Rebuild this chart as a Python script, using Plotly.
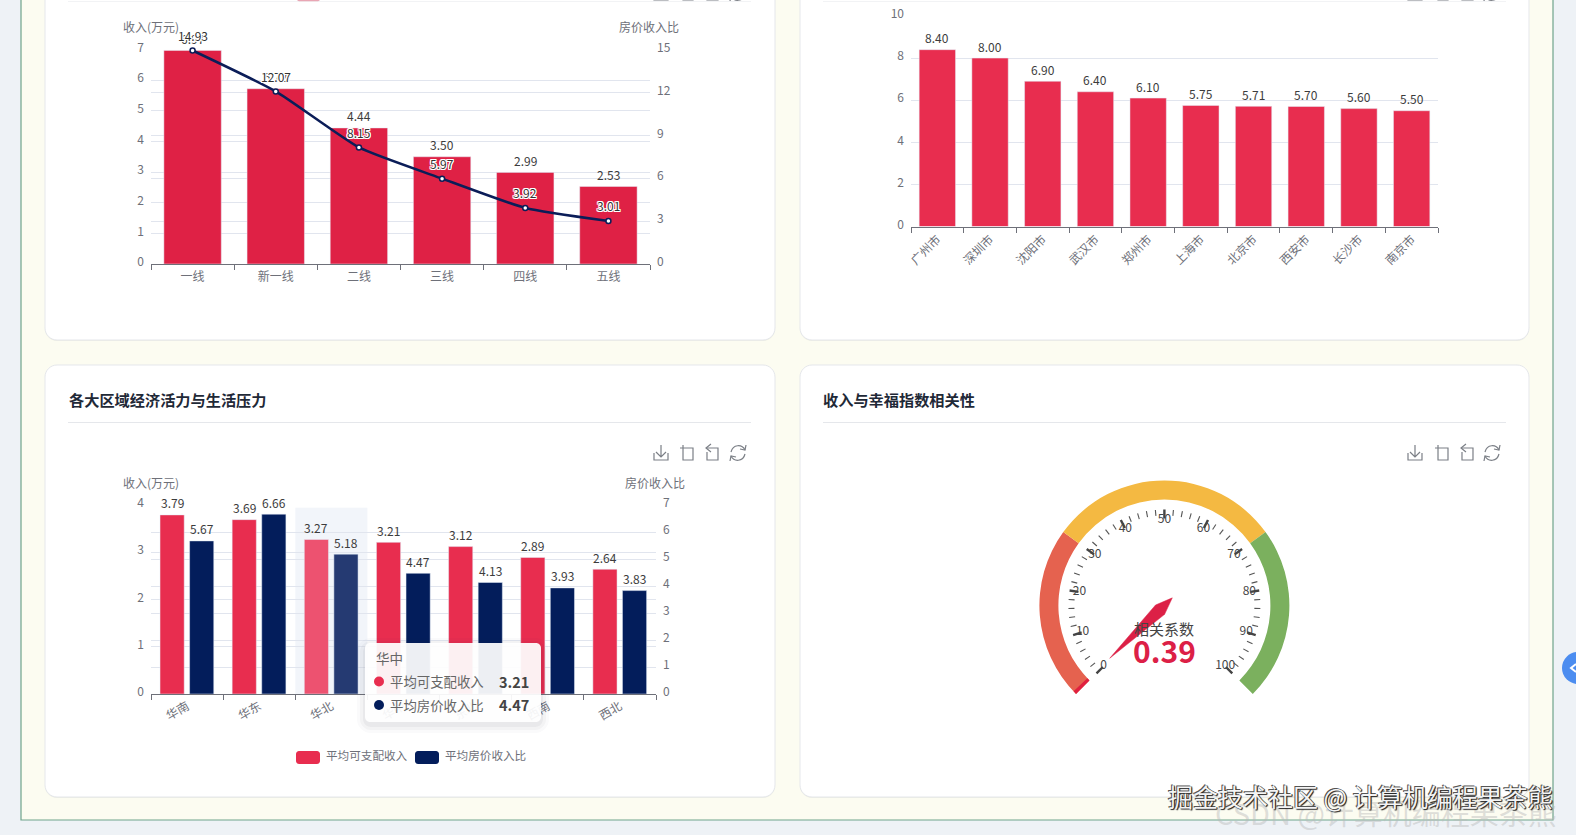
import math
import plotly.graph_objects as go

W, H = 1576, 835
FONT = "Noto Sans CJK SC, Noto Sans, sans-serif"

# ---------- data ----------
tier_cats = ["一线", "新一线", "二线", "三线", "四线", "五线"]
tier_income = [6.97, 5.72, 4.44, 3.50, 2.99, 2.53]
tier_ratio = [14.93, 12.07, 8.15, 5.97, 3.92, 3.01]

city_cats = ["广州市", "深圳市", "沈阳市", "武汉市", "郑州市", "上海市", "北京市", "西安市", "长沙市", "南京市"]
city_vals = [8.40, 8.00, 6.90, 6.40, 6.10, 5.75, 5.71, 5.70, 5.60, 5.50]

region_cats = ["华南", "华东", "华北", "华中", "东北", "西南", "西北"]
region_income = [3.79, 3.69, 3.27, 3.21, 3.12, 2.89, 2.64]
region_ratio = [5.67, 6.66, 5.18, 4.47, 4.13, 3.93, 3.83]

gauge_bands = [(0, 30, "#E5624F"), (30, 70, "#F4B942"), (70, 100, "#7BB05E")]
gauge_ticks = [0, 10, 20, 30, 40, 50, 60, 70, 80, 90, 100]
gauge_label = "0.39"
needle_value = 0

# ---------- helpers ----------
GRID = "#E1E5EE"
AXIS = "#6E7079"
RED = "#E82D4F"
NAVY = "#031D5B"


def px(x):
    return x / W


def py(y):
    return 1 - y / H


def pt(x, y):
    return f"{px(x):.5f} {py(y):.5f}"


def rrect(x0, y0, x1, y1, r):
    k = r * 0.45
    return (
        f"M{pt(x0 + r, y0)} L{pt(x1 - r, y0)} C{pt(x1 - k, y0)} {pt(x1, y0 + k)} {pt(x1, y0 + r)} "
        f"L{pt(x1, y1 - r)} C{pt(x1, y1 - k)} {pt(x1 - k, y1)} {pt(x1 - r, y1)} "
        f"L{pt(x0 + r, y1)} C{pt(x0 + k, y1)} {pt(x0, y1 - k)} {pt(x0, y1 - r)} "
        f"L{pt(x0, y0 + r)} C{pt(x0, y0 + k)} {pt(x0 + k, y0)} {pt(x0 + r, y0)} Z"
    )


shapes = []
annotations = []


def rect(x0, y0, x1, y1, fill, line=None, lw=0, layer="below"):
    shapes.append(dict(type="rect", xref="paper", yref="paper", x0=px(x0), x1=px(x1), y0=py(y0), y1=py(y1),
                       fillcolor=fill, line=dict(color=line or fill, width=lw), layer=layer))


def rr(x0, y0, x1, y1, r, fill, line=None, lw=0, layer="below"):
    shapes.append(dict(type="path", xref="paper", yref="paper", path=rrect(x0, y0, x1, y1, r), fillcolor=fill,
                       line=dict(color=line or "rgba(0,0,0,0)", width=lw), layer=layer))


def stroke(path, color="#7B7F86", width=1.2, layer="above"):
    shapes.append(dict(type="path", xref="paper", yref="paper", path=path, line=dict(color=color, width=width),
                       fillcolor="rgba(0,0,0,0)", layer=layer))


def label(x, y, text, size=12, color=AXIS, anchor="center", bold=False, shadow=None):
    font = dict(family=FONT, size=size, color=color, weight=700 if bold else 400)
    if shadow:
        font["shadow"] = shadow
    annotations.append(dict(xref="paper", yref="paper", x=px(x), y=py(y), text=text, showarrow=False, font=font,
                            xanchor=anchor, yanchor="middle", align="center"))


def value_labels(xref, yref, offset, values, shift, shadow=None, color="#3C3C3C"):
    font = dict(family=FONT, size=12, color=color)
    if shadow:
        font["shadow"] = shadow
    for i, v in enumerate(values):
        annotations.append(dict(xref=xref, yref=yref, x=i + offset, y=v, text=f"{v:.2f}", showarrow=False, font=font,
                                xanchor="center", yanchor="middle", yshift=shift))


def icons(x_offs, cy):
    # download, zoom, zoom reset, restore
    x = x_offs[0]
    stroke(f"M{pt(x - 7, cy)} L{pt(x - 7, cy + 7)} L{pt(x + 7, cy + 7)} L{pt(x + 7, cy)}")
    stroke(f"M{pt(x, cy - 8)} L{pt(x, cy + 4)} M{pt(x - 5, cy - 1)} L{pt(x, cy + 4)} L{pt(x + 5, cy - 1)}")
    x = x_offs[1]
    stroke(f"M{pt(x - 7, cy - 5)} L{pt(x + 6, cy - 5)} L{pt(x + 6, cy + 7)} L{pt(x - 4, cy + 7)} L{pt(x - 4, cy - 8)}")
    x = x_offs[2]
    stroke(f"M{pt(x - 5, cy - 5)} L{pt(x + 6, cy - 5)} L{pt(x + 6, cy + 7)} L{pt(x - 5, cy + 7)} L{pt(x - 5, cy - 1)}")
    stroke(f"M{pt(x - 1, cy - 9)} L{pt(x - 6, cy - 5)} L{pt(x - 1, cy - 1)}")
    x = x_offs[3]
    stroke(f"M{pt(x + 7, cy - 3)} C{pt(x + 4, cy - 9)} {pt(x - 5, cy - 9)} {pt(x - 7, cy - 1)} "
           f"M{pt(x - 7, cy + 3)} C{pt(x - 4, cy + 9)} {pt(x + 5, cy + 9)} {pt(x + 7, cy + 1)}")
    stroke(f"M{pt(x + 8, cy - 8)} L{pt(x + 7, cy - 3)} L{pt(x + 2, cy - 4)} "
           f"M{pt(x - 8, cy + 8)} L{pt(x - 7, cy + 3)} L{pt(x - 2, cy + 4)}")


# ---------- page chrome ----------
rect(0, 0, W, H, "#EEF2F6")
rect(21, -5, 1553, 820, "#FCFCF1", "#6FA38B", 1.2)
for (x0, y0, x1, y1) in [(45, -40, 775, 340), (800, -40, 1529, 340), (45, 365, 775, 797), (800, 365, 1529, 797)]:
    rr(x0, y0 + 1, x1, y1 + 1, 12, "rgba(120,130,120,0.10)")
    rr(x0, y0, x1, y1, 12, "#FFFFFF", "#E5E7EB", 1)
for (x0, x1) in [(68, 751), (823, 1506)]:
    rect(x0, 1, x1, 1.6, "#E5E7EB")
    rect(x0, 422, x1, 423, "#E5E7EB")
rr(297, -6, 320, 1.2, 2, "#E9A6B4")
label(67, 398.5, "各大区域经济活力与生活压力", 15.2, "#1F2937", "left", True)
label(821, 398.5, "收入与幸福指数相关性", 15.2, "#1F2937", "left", True)
icons((661, 687, 712, 738), -7)
icons((1415, 1442, 1467, 1492), -7)
icons((661, 687, 712, 738), 453)
icons((1415, 1442, 1467, 1492), 453)

# axis captions
label(151, 27, "收入(万元)")
label(649, 27, "房价收入比")
label(151, 483, "收入(万元)")
label(655, 483, "房价收入比")

# legend of the region chart
rr(296, 751, 320, 764, 3, RED)
label(324, 755, "平均可支配收入", 11.6, AXIS, "left")
rr(415, 751, 439, 764, 3, NAVY)
label(443, 755, "平均房价收入比", 11.6, AXIS, "left")

# ---------- figure ----------
fig = go.Figure()

PL1 = (151, 650, 49.5, 264)
PL2 = (911, 1438, 16, 226.5)
PL3 = (151, 656, 505, 694)


def dom(pl):
    return dict(x=[px(pl[0]), px(pl[1])], y=[py(pl[3]), py(pl[2])])


d1, d2, d3 = dom(PL1), dom(PL2), dom(PL3)
ycommon = dict(showline=False, ticks="", gridcolor=GRID, gridwidth=1, zeroline=False,
               tickfont=dict(family=FONT, size=12, color=AXIS), ticklabelstandoff=6, ticklabelshift=-2)
xcommon = dict(type="category", showline=True, linecolor=AXIS, linewidth=1, ticks="outside", tickcolor=AXIS,
               ticklen=5, tickson="boundaries", showgrid=False, zeroline=False,
               tickfont=dict(family=FONT, size=12, color=AXIS))
WHITE_RING = "1px 0 0 #fff, -1px 0 0 #fff, 0 1px 0 #fff, 0 -1px 0 #fff, 1px 1px 0 #fff, -1px -1px 0 #fff, 1px -1px 0 #fff, -1px 1px 0 #fff"

# tier chart
fig.add_trace(go.Bar(x=tier_cats, y=tier_income, xaxis="x", yaxis="y", marker=dict(color="#DF2145"),
                     cliponaxis=False, width=0.69))
fig.add_trace(go.Scatter(x=tier_cats, y=tier_ratio, xaxis="x", yaxis="y2", mode="lines+markers",
                         line=dict(color="#0B1D58", width=2.5, shape="spline", smoothing=0.5),
                         marker=dict(size=5, color="#FFFFFF", line=dict(color="#0B1D58", width=1.5)),
                         cliponaxis=False))
value_labels("x", "y", 0, tier_income, 12)
value_labels("x", "y2", 0, tier_ratio, 15, shadow=WHITE_RING, color="#333333")

# city chart
fig.add_trace(go.Bar(x=city_cats, y=city_vals, xaxis="x2", yaxis="y3", marker=dict(color=RED),
                     cliponaxis=False, width=0.69))
value_labels("x2", "y3", 0, city_vals, 12)

# region chart
hi = region_cats.index("华北")
inc_colors = ["#ED5270" if i == hi else RED for i in range(len(region_cats))]
rat_colors = ["#253A72" if i == hi else NAVY for i in range(len(region_cats))]
fig.add_trace(go.Bar(x=region_cats, y=region_income, xaxis="x3", yaxis="y4", marker=dict(color=inc_colors),
                     cliponaxis=False, width=0.335, offset=-0.375))
fig.add_trace(go.Bar(x=region_cats, y=region_ratio, xaxis="x3", yaxis="y5", marker=dict(color=rat_colors),
                     cliponaxis=False, width=0.335, offset=0.035))
value_labels("x3", "y4", -0.2075, region_income, 12)
value_labels("x3", "y5", 0.2025, region_ratio, 12)
shapes.append(dict(type="rect", xref="x3", yref="y4 domain", x0=hi - 0.5, x1=hi + 0.5, y0=0, y1=0.985,
                   fillcolor="rgba(226,232,243,0.45)", line=dict(width=0), layer="below"))

# gauge: polar radius is in pixels of the square domain
GX, GY, GR = 1164.4, 605.5, 135


def val_theta(v):
    return 225 - 2.7 * v


R_OUT, R_IN = 125, 106
for lo, hi_v, col in gauge_bands:
    fig.add_trace(go.Barpolar(r=[R_OUT - R_IN], base=[R_IN], theta=[val_theta((lo + hi_v) / 2)],
                              width=[2.7 * (hi_v - lo)], marker=dict(color=col, line=dict(width=0)), subplot="polar"))
fig.add_trace(go.Barpolar(r=[R_OUT - R_IN], base=[R_IN], theta=[val_theta(0.3)], width=[2.7 * 0.6],
                          marker=dict(color="#E0203F", line=dict(width=0)), subplot="polar"))

minor_r, minor_t = [], []
for v in range(0, 100, 2):
    if v % 10:
        minor_r += [90, 96, None]
        minor_t += [val_theta(v), val_theta(v), None]
fig.add_trace(go.Scatterpolar(r=minor_r, theta=minor_t, mode="lines", line=dict(color="#555555", width=1.1),
                              subplot="polar"))
major_r, major_t = [], []
for v in gauge_ticks:
    major_r += [87, 96, None]
    major_t += [val_theta(v), val_theta(v), None]
fig.add_trace(go.Scatterpolar(r=major_r, theta=major_t, mode="lines", line=dict(color="#444444", width=2.4),
                              subplot="polar"))
fig.add_trace(go.Scatterpolar(r=[86] * len(gauge_ticks), theta=[val_theta(v) for v in gauge_ticks], mode="text",
                              text=[str(v) for v in gauge_ticks], textposition="middle center",
                              textfont=dict(family=FONT, size=12, color="#464646"), subplot="polar"))
needle_local = [(76, 0), (6, -6.5), (-11, 0), (6, 6.5), (76, 0)]
base = val_theta(needle_value) - 1
fig.add_trace(go.Scatterpolar(r=[math.hypot(a, b) for a, b in needle_local],
                              theta=[base + math.degrees(math.atan2(b, a)) for a, b in needle_local],
                              mode="lines", fill="toself", fillcolor="#DC2046", line=dict(color="#DC2046", width=0.5),
                              subplot="polar"))
label(GX, 628, "相关系数", 15, "#444444")
label(GX, 650, gauge_label, 30, "#DC2046", bold=True)

# tooltip
for grow, alpha in [(8, 0.025), (5, 0.035), (2, 0.05)]:
    rr(365 - grow, 643 - grow + 3, 541 + grow, 722 + grow + 3, 6 + grow, f"rgba(60,60,70,{alpha})", layer="above")
rr(365, 643, 541, 722, 5, "rgba(255,255,255,0.93)", layer="above")
label(374, 658, "华中", 13.5, "#666666", "left")
for y, name, val, col in [(681.5, "平均可支配收入", region_income[3], RED), (705, "平均房价收入比", region_ratio[3], NAVY)]:
    shapes.append(dict(type="circle", xref="paper", yref="paper", x0=px(374), x1=px(384), y0=py(y + 5), y1=py(y - 5),
                       fillcolor=col, line=dict(width=0), layer="above"))
    label(388, y - 0.5, name, 13.4, "#666666", "left")
    label(530.5, y - 0.5, f"{val:.2f}", 14.5, "#444444", "right", True)

# floating button and watermarks
shapes.append(dict(type="circle", xref="paper", yref="paper", x0=px(1562), x1=px(1594), y0=py(684), y1=py(652),
                   fillcolor="#4C8DF0", line=dict(width=0), layer="above"))
stroke(f"M{pt(1576, 664)} L{pt(1571, 668)} L{pt(1576, 672)}", "#FFFFFF", 2)
label(1213, 812, "CSDN @计算机编程果茶熊", 29, "rgba(185,185,185,0.45)", "left")
label(1166, 796, "掘金技术社区 @ 计算机编程果茶熊", 25, "#F4F4F4", "left",
      shadow="1px 1px 1px #222, -1px -1px 0 #555, 1px 0 0 #555")

fig.update_layout(
    width=W, height=H, margin=dict(l=0, r=0, t=0, b=0, autoexpand=False), autosize=False,
    paper_bgcolor="#EEF2F6", plot_bgcolor="rgba(0,0,0,0)", showlegend=False, font=dict(family=FONT),
    barmode="overlay", hovermode=False, shapes=shapes, annotations=annotations,
    xaxis=dict(domain=d1["x"], anchor="y", ticklabelstandoff=2, **xcommon),
    yaxis=dict(domain=d1["y"], anchor="x", range=[0, 7], dtick=1, **ycommon),
    yaxis2=dict(domain=d1["y"], anchor="x", overlaying="y", side="right", range=[0, 15], dtick=3, **ycommon),
    xaxis2=dict(domain=d2["x"], anchor="y3", tickangle=-45, **xcommon),
    yaxis3=dict(domain=d2["y"], anchor="x2", range=[0, 10], dtick=2, **ycommon),
    xaxis3=dict(domain=d3["x"], anchor="y4", tickangle=-30, **xcommon),
    yaxis4=dict(domain=d3["y"], anchor="x3", range=[0, 4], dtick=1, **ycommon),
    yaxis5=dict(domain=d3["y"], anchor="x3", overlaying="y4", side="right", range=[0, 7], dtick=1, **ycommon),
    polar=dict(domain=dict(x=[px(GX - GR), px(GX + GR)], y=[py(GY + GR), py(GY - GR)]),
               bgcolor="rgba(0,0,0,0)",
               radialaxis=dict(visible=False, range=[0, GR]),
               angularaxis=dict(visible=False)),
)

fig.write_html("out.html", config=dict(displayModeBar=False),
               post_script="document.body.style.margin='0';document.documentElement.style.overflow='hidden';")
